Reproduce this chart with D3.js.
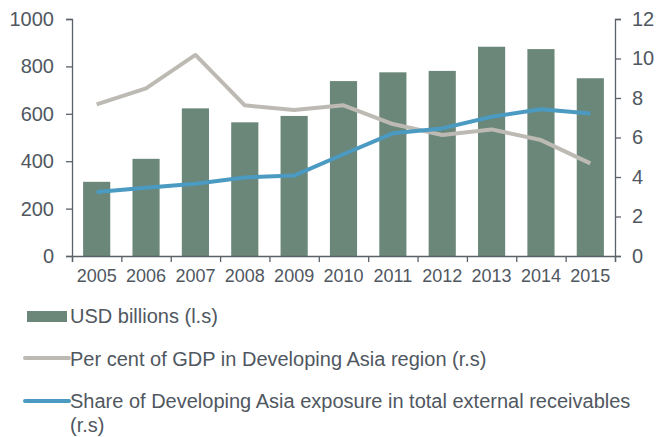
<!DOCTYPE html>
<html>
<head>
<meta charset="utf-8">
<script src="https://cdn.jsdelivr.net/npm/d3@7"></script>
<style>
  body { margin: 0; background: #fff; }
  text { font-family: "Liberation Sans", Arial, sans-serif; fill: #50575f; }
  .axis path, .axis line { stroke: #5b6169; stroke-width: 1.3; }
  .axis text { font-size: 20px; }
  .axis.x text { font-size: 18px; }
  .legend text { font-size: 20px; }
</style>
</head>
<body>
<div class="chart"></div>
<script>
const years = ["2005", "2006", "2007", "2008", "2009", "2010", "2011", "2012", "2013", "2014", "2015"];
const usdBillions = [313, 410, 623, 564, 591, 738, 775, 781, 883, 873, 750];
const pctGdp = [7.68, 8.49, 10.18, 7.63, 7.39, 7.63, 6.68, 6.13, 6.41, 5.87, 4.69];
const shareExposure = [3.24, 3.46, 3.66, 3.98, 4.07, 5.15, 6.21, 6.46, 7.05, 7.43, 7.21];
const leftTicks = [0, 200, 400, 600, 800, 1000];
const rightTicks = [0, 2, 4, 6, 8, 10, 12];

const w = 657, h = 437;
const margin = { top: 19, left: 72, right: 42, bottom: 181 };
const chartWidth = w - margin.left - margin.right;
const chartHeight = h - margin.top - margin.bottom;

const svg = d3.select(".chart")
    .append("svg")
    .attr("width", w)
    .attr("height", h);

const g = svg.append("g")
    .attr("transform", "translate(" + margin.left + "," + margin.top + ")");

const xBand = d3.scaleBand()
    .domain(years)
    .range([0, chartWidth])
    .paddingInner(0.45)
    .paddingOuter(0.225);

const xTicks = d3.scaleLinear()
    .domain([0, years.length])
    .range([0, chartWidth]);

const yLeft = d3.scaleLinear().domain([0, 1000]).range([chartHeight, 0]);
const yRight = d3.scaleLinear().domain([0, 12]).range([chartHeight, 0]);

// bars
g.selectAll("rect.bar")
    .data(usdBillions)
    .enter()
    .append("rect")
    .attr("class", "bar")
    .attr("x", (d, i) => xBand(years[i]))
    .attr("y", d => yLeft(d))
    .attr("width", xBand.bandwidth())
    .attr("height", d => chartHeight - yLeft(d))
    .attr("fill", "#6b8779");

// lines
const cx = i => xBand(years[i]) + xBand.bandwidth() / 2;
const line = d3.line()
    .x((d, i) => cx(i))
    .y(d => yRight(d));

g.append("path")
    .datum(pctGdp)
    .attr("d", line)
    .attr("fill", "none")
    .attr("stroke", "#bdbab4")
    .attr("stroke-width", 4)
    .attr("stroke-linejoin", "round");

g.append("path")
    .datum(shareExposure)
    .attr("d", line)
    .attr("fill", "none")
    .attr("stroke", "#4a9ac2")
    .attr("stroke-width", 4)
    .attr("stroke-linejoin", "round");

// axes
g.append("g")
    .attr("class", "axis")
    .call(d3.axisLeft(yLeft).tickValues(leftTicks).tickSize(6).tickPadding(12).tickFormat(d3.format("d")));

g.append("g")
    .attr("class", "axis")
    .attr("transform", "translate(" + chartWidth + ",0)")
    .call(d3.axisRight(yRight).tickValues(rightTicks).tickSize(6).tickPadding(11).tickFormat(d3.format("d")));

g.append("g")
    .attr("class", "axis")
    .attr("transform", "translate(0," + chartHeight + ")")
    .call(d3.axisBottom(xTicks).tickValues(d3.range(years.length + 1)).tickSize(6).tickFormat(""));

g.append("g")
    .attr("class", "axis x")
    .attr("transform", "translate(0," + chartHeight + ")")
    .call(d3.axisBottom(xBand).tickSize(0).tickPadding(13))
    .call(a => a.select(".domain").remove());

// legend
const legend = svg.append("g").attr("class", "legend");

legend.append("rect")
    .attr("x", 27).attr("y", 311)
    .attr("width", 40).attr("height", 11)
    .attr("fill", "#6b8779");
legend.append("text").attr("x", 70).attr("y", 323).text("USD billions (l.s)");

legend.append("line")
    .attr("x1", 25).attr("x2", 69).attr("y1", 358).attr("y2", 358)
    .attr("stroke", "#bdbab4").attr("stroke-width", 4).attr("stroke-linecap", "round");
legend.append("text").attr("x", 70).attr("y", 366).text("Per cent of GDP in Developing Asia region (r.s)");

legend.append("line")
    .attr("x1", 25).attr("x2", 69).attr("y1", 401).attr("y2", 401)
    .attr("stroke", "#4a9ac2").attr("stroke-width", 4).attr("stroke-linecap", "round");
legend.append("text").attr("x", 70).attr("y", 408).text("Share of Developing Asia exposure in total external receivables");
legend.append("text").attr("x", 70).attr("y", 432).text("(r.s)");
</script>
</body>
</html>
